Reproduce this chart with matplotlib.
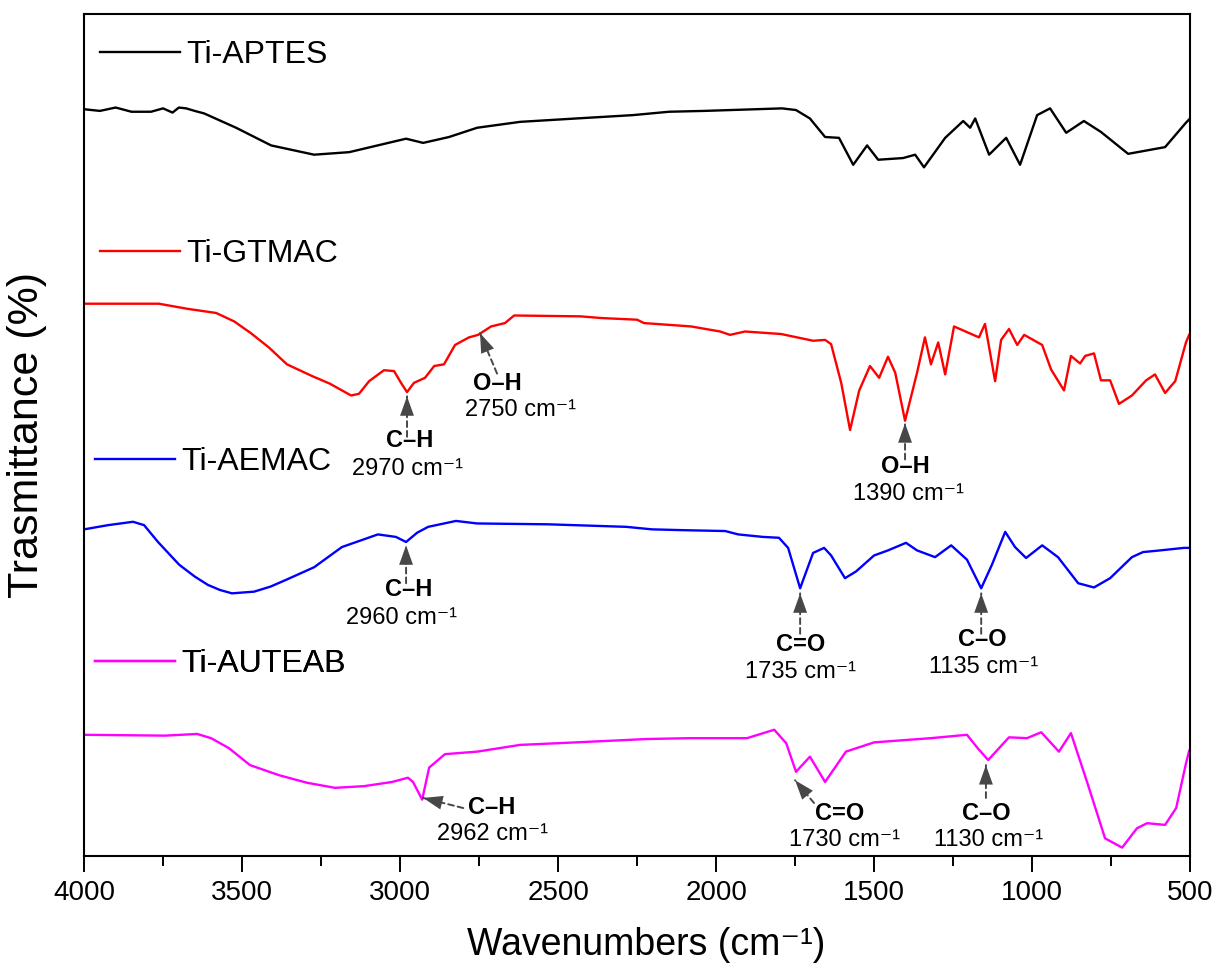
import matplotlib.pyplot as plt
from matplotlib.ticker import MultipleLocator

plt.rcParams['font.family'] = ['Liberation Sans', 'DejaVu Sans']

# spectra (wavenumber in cm-1, transmittance with vertical offset)
wn_aptes = [4000, 3950, 3900, 3850, 3788, 3750, 3720, 3700, 3677, 3650, 3620, 3519, 3408, 3272,
            3161, 2981, 2927, 2845, 2756, 2620, 2443, 2263, 2149, 2038, 1791, 1747, 1703, 1655,
            1611, 1566, 1522, 1487, 1408, 1370, 1342, 1275, 1218, 1196, 1180, 1136, 1082, 1038,
            984, 943, 892, 836, 782, 696, 579, 513, 500]
t_aptes = [88.7, 88.5, 88.9, 88.4, 88.4, 88.8, 88.3, 88.9, 88.8, 88.5, 88.2, 86.5, 84.4, 83.3,
           83.6, 85.2, 84.7, 85.4, 86.5, 87.2, 87.6, 88.0, 88.4, 88.5, 88.8, 88.6, 87.6, 85.4,
           85.3, 82.1, 84.4, 82.7, 82.9, 83.3, 81.8, 85.3, 87.3, 86.5, 87.6, 83.3, 85.3, 82.1,
           88.0, 88.8, 85.9, 87.3, 86.0, 83.4, 84.2, 87.1, 87.6]

wn_gtmac = [3997, 3810, 3763, 3674, 3582, 3525, 3472, 3415, 3358, 3278, 3222, 3155, 3130, 3098,
            3051, 3019, 2997, 2978, 2956, 2921, 2892, 2861, 2826, 2782, 2753, 2712, 2668, 2639,
            2430, 2364, 2250, 2228, 2079, 1987, 1956, 1908, 1794, 1693, 1655, 1636, 1604, 1576,
            1547, 1513, 1484, 1456, 1433, 1402, 1364, 1339, 1320, 1297, 1275, 1247, 1168, 1149,
            1117, 1098, 1073, 1047, 1025, 968, 940, 899, 877, 848, 832, 804, 782, 753, 725, 684,
            639, 611, 579, 547, 513, 503]
t_gtmac = [65.6, 65.6, 65.6, 65.0, 64.5, 63.5, 62.1, 60.4, 58.4, 57.0, 56.1, 54.7, 54.9, 56.4,
           57.7, 57.6, 56.2, 55.1, 56.2, 56.8, 58.2, 58.4, 60.7, 61.6, 61.9, 62.9, 63.3, 64.2,
           64.1, 63.9, 63.7, 63.3, 62.9, 62.3, 61.9, 62.3, 62.0, 61.2, 61.3, 60.8, 56.2, 50.6,
           55.3, 58.2, 56.8, 59.3, 57.4, 51.7, 57.4, 61.6, 58.4, 61.0, 57.2, 62.9, 61.6, 63.2,
           56.4, 61.3, 62.6, 60.7, 61.9, 60.7, 57.8, 55.3, 59.4, 58.5, 59.4, 59.7, 56.5, 56.5,
           53.7, 54.7, 56.5, 57.2, 55.0, 56.4, 61.0, 61.9]

wn_aemac = [4000, 3924, 3845, 3810, 3766, 3699, 3650, 3608, 3570, 3532, 3462, 3410, 3361, 3272,
            3184, 3070, 3013, 2981, 2946, 2911, 2823, 2756, 2532, 2285, 2203, 2101, 1971, 1930,
            1851, 1801, 1772, 1734, 1693, 1658, 1636, 1592, 1557, 1500, 1456, 1399, 1364, 1307,
            1256, 1206, 1161, 1127, 1085, 1054, 1019, 968, 918, 854, 804, 753, 684, 649, 595,
            519, 503]
t_aemac = [38.8, 39.3, 39.7, 39.3, 37.3, 34.6, 33.2, 32.2, 31.6, 31.2, 31.4, 32.0, 32.8, 34.3,
           36.7, 38.2, 37.9, 37.3, 38.4, 39.1, 39.8, 39.5, 39.4, 39.1, 38.8, 38.7, 38.6, 38.2,
           37.9, 37.8, 36.6, 31.8, 36.0, 36.6, 35.7, 33.0, 33.8, 35.7, 36.3, 37.2, 36.3, 35.5,
           36.9, 35.2, 31.8, 34.6, 38.5, 36.7, 35.4, 36.9, 35.5, 32.4, 31.9, 33.0, 35.5, 36.1,
           36.3, 36.6, 36.6]

wn_auteab = [4000, 3744, 3642, 3598, 3541, 3475, 3383, 3294, 3206, 3114, 3025, 2975, 2959, 2930,
             2908, 2858, 2756, 2620, 2443, 2218, 2082, 1902, 1816, 1778, 1747, 1703, 1655, 1589,
             1500, 1320, 1206, 1174, 1139, 1073, 1016, 971, 915, 877, 826, 769, 715, 668, 636,
             579, 544, 513, 503]
t_auteab = [14.4, 14.3, 14.5, 14.0, 12.8, 10.8, 9.6, 8.7, 8.1, 8.3, 8.8, 9.3, 8.8, 6.7,
            10.5, 12.1, 12.4, 13.2, 13.5, 13.9, 14.0, 14.0, 15.0, 13.4, 10.0, 11.8, 8.8, 12.4,
            13.5, 14.0, 14.4, 12.9, 11.4, 14.1, 14.0, 14.7, 12.4, 14.6, 8.8, 2.1, 1.0, 3.3, 3.9,
            3.7, 5.7, 11.0, 12.5]

names = ['Ti-APTES', 'Ti-GTMAC', 'Ti-AEMAC', 'Ti-AUTEAB']
colors = ['black', '#ff0000', '#0000ff', '#ff00ff']

# band labels
bonds = ['C–H', 'O–H', 'O–H', 'C–H', 'C=O', 'C–O', 'C–H', 'C=O', 'C–O']
bands = ['2970 cm⁻¹', '2750 cm⁻¹', '1390 cm⁻¹', '2960 cm⁻¹', '1735 cm⁻¹', '1135 cm⁻¹',
         '2962 cm⁻¹', '1730 cm⁻¹', '1130 cm⁻¹']

# arrow tip, arrow tail, bond text, band text (data coords)
ann_pos = [
    ((2978, 54.6), (2978, 49.8), (2970, 49.3), (2978, 46.0)),
    ((2747, 62.1), (2693, 57.3), (2693, 56.1), (2620, 53.0)),
    ((1402, 51.4), (1402, 47.1), (1402, 46.3), (1392, 43.0)),
    ((2981, 36.9), (2981, 32.4), (2972, 31.6), (2994, 28.3)),
    ((1734, 31.2), (1734, 26.4), (1734, 25.1), (1734, 21.8)),
    ((1161, 31.2), (1161, 26.4), (1158, 25.7), (1155, 22.4)),
    ((2927, 6.9), (2800, 5.7), (2709, 5.8), (2709, 2.6)),
    ((1750, 9.0), (1690, 6.3), (1608, 5.1), (1595, 1.9)),
    ((1146, 10.8), (1146, 6.9), (1146, 5.1), (1139, 1.9)),
]

fig = plt.figure(figsize=(12.13, 9.71), dpi=100)
ax = fig.add_axes([0.0693, 0.1184, 0.9118, 0.8671])

series = [(wn_aptes, t_aptes), (wn_gtmac, t_gtmac), (wn_aemac, t_aemac), (wn_auteab, t_auteab)]
lines = []
for (x, y), c in zip(series, colors):
    ln, = ax.plot(x, y, color=c, lw=1.7)
    lines.append(ln)

# separate legend above each spectrum
leg_x = [0.0145, 0.0145, 0.010, 0.010]
leg_y = [0.951, 0.715, 0.468, 0.228]
for ln, name, lx, ly in zip(lines, names, leg_x, leg_y):
    leg = ax.legend([ln], [name], loc='center left', bbox_to_anchor=(lx, ly), frameon=False,
                    fontsize=23, handlelength=2.5, handletextpad=0.2, borderpad=0, borderaxespad=0)
    ax.add_artist(leg)

arrow_col = '#474747'
for bond, band, (tip, tail, bxy, nxy) in zip(bonds, bands, ann_pos):
    # dashed shaft
    ax.annotate('', xy=tip, xytext=tail,
                arrowprops=dict(arrowstyle='-', color=arrow_col, lw=1.4, ls=(0, (3, 2)),
                                shrinkA=0, shrinkB=0))
    # solid head only
    ax.annotate('', xy=tip, xytext=tail,
                arrowprops=dict(arrowstyle='-|>,head_length=1.4,head_width=0.5', fc=arrow_col,
                                ec='none', lw=0, shrinkA=0, shrinkB=0, mutation_scale=10))
    ax.text(bxy[0], bxy[1], bond, fontsize=17, fontweight='bold', ha='center', va='center')
    ax.text(nxy[0], nxy[1], band, fontsize=17, ha='center', va='center')

ax.set_xlim(4000, 500)
ax.set_ylim(0, 100)
ax.set_yticks([])
ax.xaxis.set_major_locator(MultipleLocator(500))
ax.xaxis.set_minor_locator(MultipleLocator(250))
ax.tick_params(axis='x', which='major', direction='out', length=11.5, width=1.4, labelsize=20, pad=6)
ax.tick_params(axis='x', which='minor', direction='out', length=7, width=1.4)
for s in ax.spines.values():
    s.set_linewidth(1.5)

ax.set_xlabel('Wavenumbers (cm⁻¹)', fontsize=27)
ax.xaxis.set_label_coords(0.508, -0.106)
ax.xaxis.label.set_va('center')
ax.set_ylabel('Trasmittance (%)', fontsize=31)
ax.yaxis.set_label_coords(-0.052, 0.5)
ax.yaxis.label.set_va('center')

plt.savefig('out.png', dpi=100)
plt.close()
